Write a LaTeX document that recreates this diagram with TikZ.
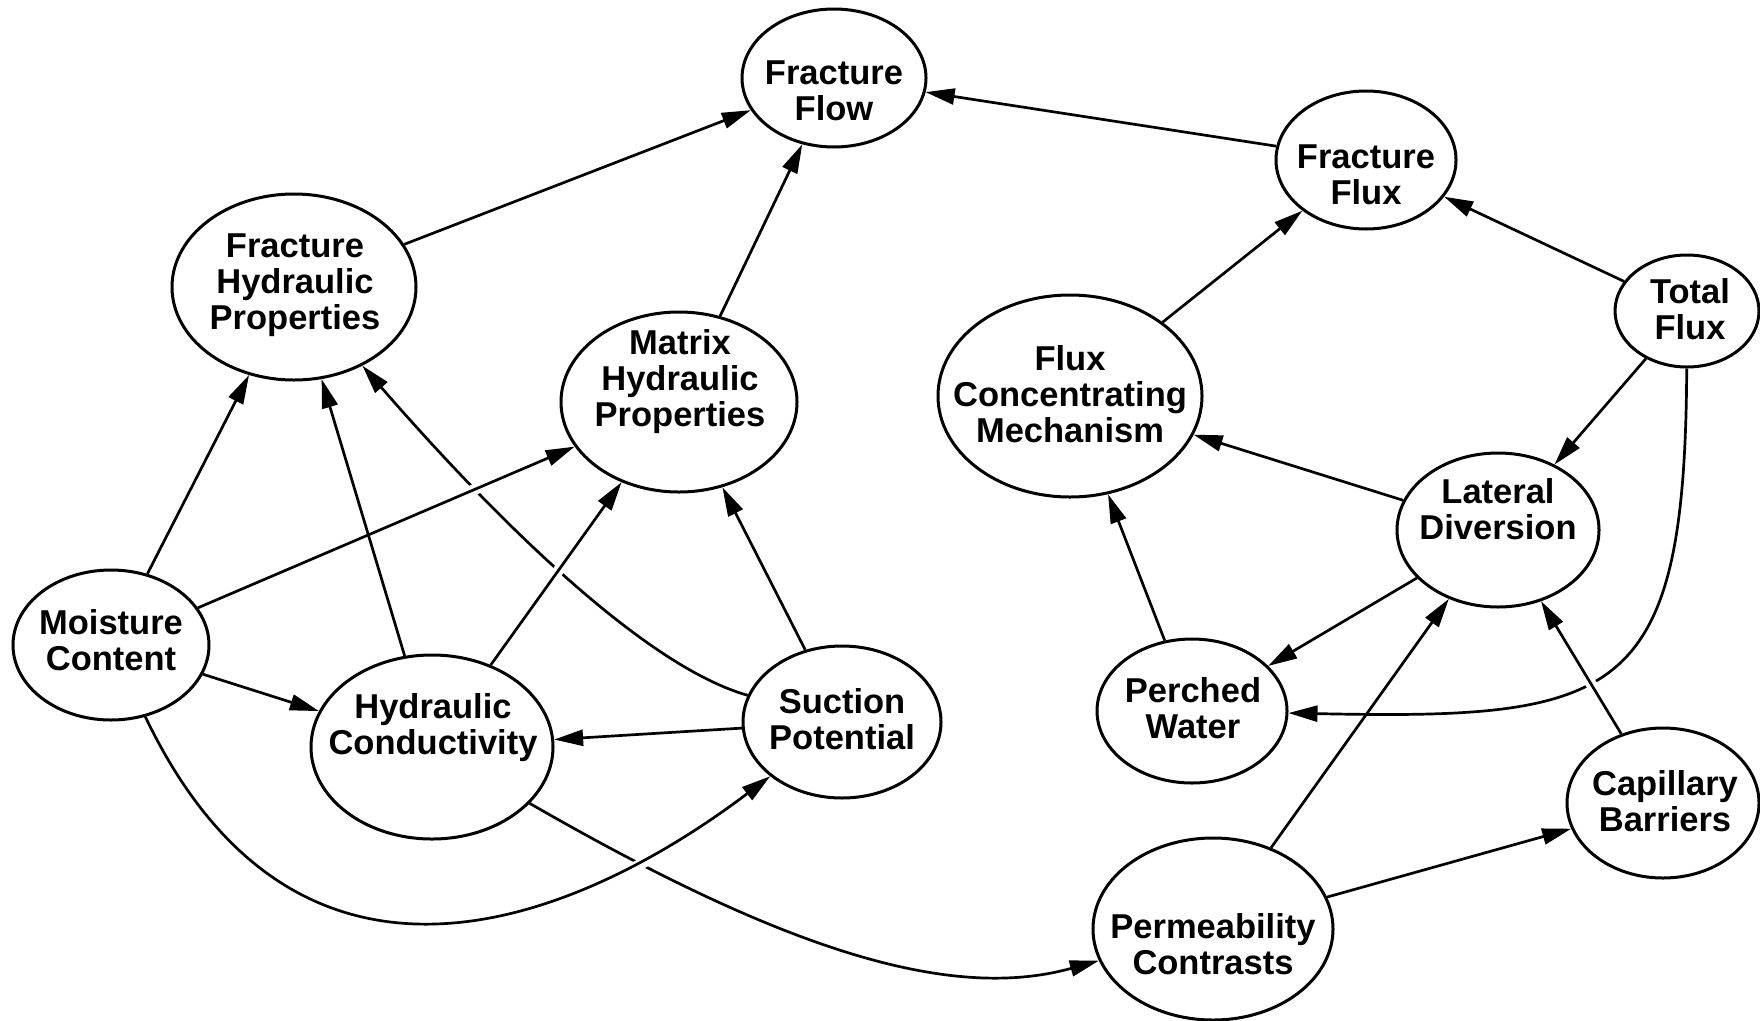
\documentclass[tikz,border=0pt]{standalone}
\usepackage{fontspec}
\setmainfont{Liberation Sans}
\usetikzlibrary{arrows.meta,shapes.geometric}
\begin{document}
\begin{tikzpicture}[x=1pt,y=-1pt,
  ell/.style={draw, ellipse, line width=3pt, inner sep=0pt},
  lbl/.style={align=center, font=\fontsize{34.5}{36}\selectfont\bfseries, inner sep=0pt},
  con/.style={line width=2.7pt, -{Triangle[length=29pt,width=16pt]}},
  over/.style={preaction={draw=white, line width=11pt, -, shorten <=35pt, shorten >=45pt}}
]
\useasboundingbox[fill=white] (0,0) rectangle (1760,1020);

% ellipses
\node[ell, minimum width=184pt, minimum height=138pt] (ff)  at (834,78)   {};
\node[ell, minimum width=244pt, minimum height=186pt] (fhp) at (294,287)  {};
\node[ell, minimum width=236pt, minimum height=180pt] (mhp) at (679,402)  {};
\node[ell, minimum width=264pt, minimum height=202pt] (fcm) at (1070,396) {};
\node[ell, minimum width=180pt, minimum height=138pt] (ffx) at (1366,160) {};
\node[ell, minimum width=144pt, minimum height=112pt] (tf)  at (1687,311) {};
\node[ell, minimum width=202pt, minimum height=154pt] (ld)  at (1498,530) {};
\node[ell, minimum width=196pt, minimum height=150pt] (mc)  at (111,645)  {};
\node[ell, minimum width=242pt, minimum height=184pt] (hc)  at (432,747)  {};
\node[ell, minimum width=198pt, minimum height=152pt] (sp)  at (842,722)  {};
\node[ell, minimum width=190pt, minimum height=144pt] (pw)  at (1192,711) {};
\node[ell, minimum width=240pt, minimum height=182pt] (pc)  at (1213,929) {};
\node[ell, minimum width=192pt, minimum height=150pt] (cb)  at (1663,803) {};

% labels
\node[lbl] (ffl)  at (834,91)   {Fracture\\Flow};
\node[lbl] (fhpl) at (295,285)  {Fracture\\Hydraulic\\Properties};
\node[lbl] (mhpl) at (680,382)  {Matrix\\Hydraulic\\Properties};
\node[lbl] (fcml) at (1070,394) {Flux\\Concentrating\\Mechanism};
\node[lbl] (ffxl) at (1366,175) {Fracture\\Flux};
\node[lbl] (tfl)  at (1690,309) {Total\\Flux};
\node[lbl] (ldl)  at (1498,509) {Lateral\\Diversion};
\node[lbl] (mcl)  at (111,640)  {Moisture\\Content};
\node[lbl] (hcl)  at (433,728)  {Hydraulic\\Conductivity};
\node[lbl] (spl)  at (842,719)  {Suction\\Potential};
\node[lbl] (pwl)  at (1193,708) {Perched\\Water};
\node[lbl] (pcl)  at (1213,944) {Permeability\\Contrasts};
\node[lbl] (cbl)  at (1665,801) {Capillary\\Barriers};

% connectors that are broken by crossings
\draw[con] (sp) .. controls (630,662) and (460,478) .. (fhp);
\draw[con, over] (mc) -- (mhp);
\draw[con, over] (hc) -- (mhp);
\draw[con] (hc) .. controls (784,950) and (950,1002) .. (pc);
\draw[con, over] (mc) .. controls (300,1040) and (580,920) .. (sp);
\draw[con] (tf) .. controls (1685,700) and (1620,720) .. (pw);
\draw[con, over] (cb) -- (ld);

% other connectors
\draw[con] (fhp) -- (ff);
\draw[con] (mhp) -- (ff);
\draw[con] (ffx) -- (ff);
\draw[con] (fcm) -- (ffx);
\draw[con] (tf) -- (ffx);
\draw[con] (tf) -- (ld);
\draw[con] (ld) -- (fcm);
\draw[con] (pw) -- (fcm);
\draw[con] (ld) -- (pw);
\draw[con] (pc) -- (ld);
\draw[con] (pc) -- (cb);
\draw[con] (mc) -- (fhp);
\draw[con] (mc) -- (hc);
\draw[con] (hc) -- (fhp);
\draw[con] (sp) -- (mhp);
\draw[con] (sp) -- (hc);
\end{tikzpicture}
\end{document}
